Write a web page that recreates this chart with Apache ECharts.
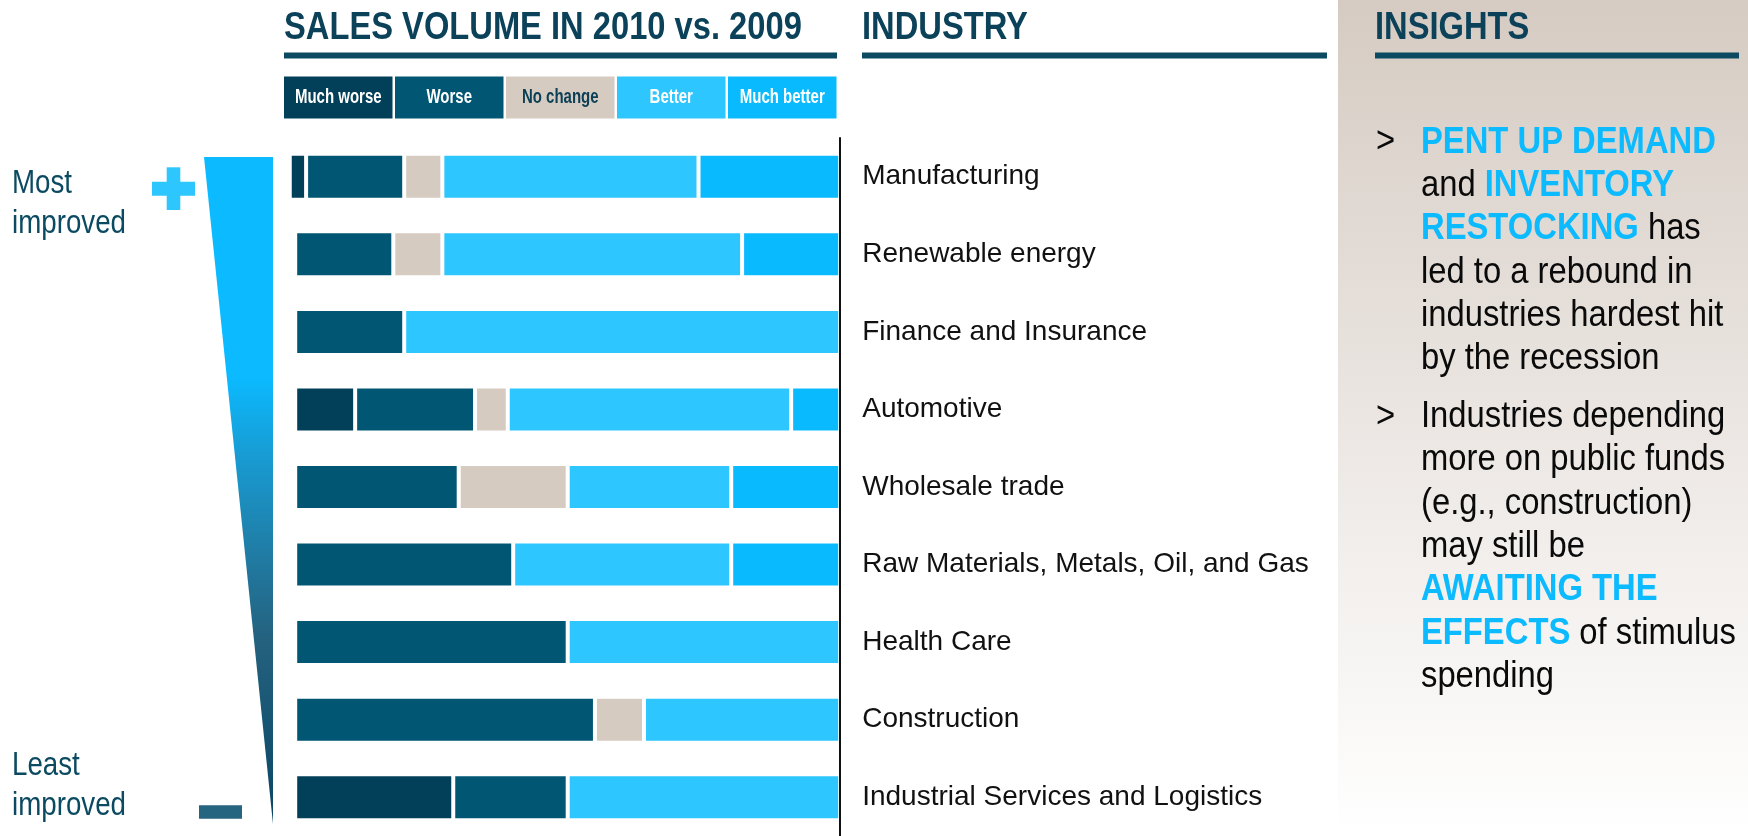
<!DOCTYPE html>
<html>
<head>
<meta charset="utf-8">
<title>Sales volume in 2010 vs. 2009 by industry</title>
<script src="https://cdn.jsdelivr.net/npm/echarts@6/dist/echarts.min.js"></script>
<style>
  html, body { margin: 0; padding: 0; background: #ffffff; }
  #chart { width: 1748px; height: 836px; }
</style>
</head>
<body>
<div id="chart"></div>
<script>
// Industries, ordered from most improved (top) to least improved (bottom)
const categories = [
  'Manufacturing',
  'Renewable energy',
  'Finance and Insurance',
  'Automotive',
  'Wholesale trade',
  'Raw Materials, Metals, Oil, and Gas',
  'Health Care',
  'Construction',
  'Industrial Services and Logistics'
];

// Share of respondents (%) per answer, one value per industry
const muchWorse  = [3, 0, 0, 11, 0, 0, 0, 0, 29];
const worse      = [18, 18, 20, 22, 30, 40, 50, 55, 21];
const noChange   = [7, 9, 0, 6, 20, 0, 0, 9, 0];
const better     = [47, 55, 80, 52, 30, 40, 50, 36, 50];
const muchBetter = [26, 18, 0, 9, 20, 20, 0, 0, 0];

const answerNames = ['Much worse', 'Worse', 'No change', 'Better', 'Much better'];
const answerValues = [muchWorse, worse, noChange, better, muchBetter];
const answerColors = ['#023f58', '#015673', '#d6cbc1', '#2dc6ff', '#0abaff'];
const answerTextColors = ['#ffffff', '#ffffff', '#0b3f55', '#ffffff', '#ffffff'];

const FONT = "'Liberation Sans', Arial, sans-serif";
const TEAL = '#0b4259';

const chart = echarts.init(document.getElementById('chart'), null, { renderer: 'canvas' });

// Bars are anchored on the right edge, so the stack starts with "Much better"
const series = [];
for (let i = answerNames.length - 1; i >= 0; i--) {
  series.push({
    name: answerNames[i],
    type: 'bar',
    stack: 'total',
    barWidth: 46,
    clip: false,
    data: answerValues[i],
    itemStyle: { color: answerColors[i], borderColor: '#ffffff', borderWidth: 2 },
    emphasis: { disabled: true }
  });
}

// Condensed headline text: regular glyphs squeezed horizontally
function heading(text, x) {
  return { type: 'text', x: x, y: 28.3, scaleX: 0.845,
    style: { text: text, fill: TEAL, font: 'bold 38.7px ' + FONT, verticalAlign: 'middle' } };
}

// Legend drawn as a row of coloured boxes with the answer written inside
const legendBoxes = answerNames.map((name, i) => ({
  type: 'group',
  x: 284 + i * 111,
  y: 76.5,
  children: [
    { type: 'rect', shape: { x: 0, y: 0, width: 108.5, height: 42 }, style: { fill: answerColors[i] } },
    { type: 'text', x: 54.25, y: 21, scaleX: 0.75, style: {
        text: name, fill: answerTextColors[i], font: 'bold 20px ' + FONT,
        align: 'center', verticalAlign: 'middle' } }
  ]
}));

const insightRich = {
  n: { fontFamily: FONT, fontSize: 36, fill: '#0a0a0a', lineHeight: 43.3 },
  h: { fontFamily: FONT, fontSize: 36, fontWeight: 'bold', fill: '#0bbaff', lineHeight: 43.3 }
};

const option = {
  backgroundColor: '#ffffff',
  animation: false,
  grid: { left: 295.2, width: 545, top: 138, height: 706.5, containLabel: false },
  xAxis: {
    type: 'value', inverse: true, min: 0, max: 100, show: false
  },
  yAxis: {
    type: 'category',
    data: categories,
    inverse: true,
    position: 'right',
    z: 10,
    axisLine: { show: true, lineStyle: { color: '#111111', width: 2 } },
    axisTick: { show: false },
    splitLine: { show: false },
    axisLabel: { margin: 22, color: '#111111', fontFamily: FONT, fontSize: 28, padding: [3, 0, 0, 0] }
  },
  series: series,
  graphic: [
    // Insights panel background
    { type: 'rect', z: -10, shape: { x: 1338, y: 0, width: 410, height: 836 },
      style: { fill: new echarts.graphic.LinearGradient(0, 0, 0, 1, [
        { offset: 0, color: '#d5cbc2' },
        { offset: 0.5, color: '#ebe6e2' },
        { offset: 1, color: '#ffffff' }
      ]) } },

    // Section headings with their rules
    heading('SALES VOLUME IN 2010 vs. 2009', 284),
    { type: 'rect', shape: { x: 284, y: 52.5, width: 553, height: 6 }, style: { fill: '#0b4a60' } },
    heading('INDUSTRY', 862),
    { type: 'rect', shape: { x: 862, y: 52.5, width: 465, height: 6 }, style: { fill: '#0b4a60' } },
    heading('INSIGHTS', 1375),
    { type: 'rect', shape: { x: 1375, y: 52.5, width: 364, height: 6 }, style: { fill: '#0b4a60' } },

    ...legendBoxes,

    // Ranking scale on the left
    { type: 'text', x: 12, y: 164.5, scaleX: 0.84, style: { text: 'Most\nimproved', fill: '#0b4a61',
        font: '33px ' + FONT, lineHeight: 39.5, verticalAlign: 'top' } },
    { type: 'text', x: 12, y: 746, scaleX: 0.84, style: { text: 'Least\nimproved', fill: '#0b4a61',
        font: '33px ' + FONT, lineHeight: 40, verticalAlign: 'top' } },
    { type: 'rect', shape: { x: 166.7, y: 167.3, width: 13.6, height: 42.7 }, style: { fill: '#2ec6ff' } },
    { type: 'rect', shape: { x: 152, y: 181.7, width: 43, height: 14 }, style: { fill: '#2ec6ff' } },
    { type: 'rect', shape: { x: 199, y: 805.3, width: 43, height: 13.4 }, style: { fill: '#26657f' } },
    { type: 'polygon', shape: { points: [[204, 157], [273, 157], [273, 824]] },
      style: { fill: new echarts.graphic.LinearGradient(0, 0, 0, 1, [
        { offset: 0, color: '#0bbaff' },
        { offset: 0.33, color: '#0bbaff' },
        { offset: 0.45, color: '#189bd2' },
        { offset: 0.6, color: '#207ba3' },
        { offset: 0.72, color: '#24627f' },
        { offset: 1, color: '#0a4664' }
      ]) } },

    // Insight bullets
    { type: 'text', x: 1376, y: 142.5, scaleX: 0.91, style: { text: '>', fill: '#0a0a0a', font: '36px ' + FONT, verticalAlign: 'middle' } },
    { type: 'text', x: 1421, y: 121.2, scaleX: 0.91, style: {
        text: '{h|PENT UP DEMAND}\n{n|and }{h|INVENTORY}\n{h|RESTOCKING}{n| has}\n{n|led to a rebound in}\n{n|industries hardest hit}\n{n|by the recession}',
        rich: insightRich, verticalAlign: 'top' } },
    { type: 'text', x: 1376, y: 417, scaleX: 0.91, style: { text: '>', fill: '#0a0a0a', font: '36px ' + FONT, verticalAlign: 'middle' } },
    { type: 'text', x: 1421, y: 395.5, scaleX: 0.91, style: {
        text: '{n|Industries depending}\n{n|more on public funds}\n{n|(e.g., construction)}\n{n|may still be}\n{h|AWAITING THE}\n{h|EFFECTS}{n| of stimulus}\n{n|spending}',
        rich: insightRich, verticalAlign: 'top' } }
  ]
};

chart.setOption(option);
</script>
</body>
</html>
